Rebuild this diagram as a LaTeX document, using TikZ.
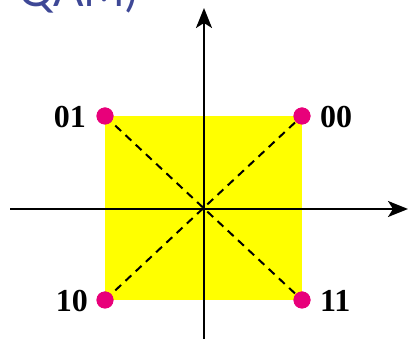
\documentclass[tikz,border=0pt]{standalone}
\usepackage{fontspec}
\setmainfont{Liberation Serif}
\newfontfamily\titlefont{Lato}
\usetikzlibrary{arrows.meta}
\definecolor{titleblue}{RGB}{62,72,150}
\definecolor{dotpink}{RGB}{232,0,122}
\definecolor{sqyellow}{RGB}{255,255,0}
\begin{document}
\begin{tikzpicture}[x=1pt,y=-1pt,
  axis/.style={line width=2pt,-{Stealth[length=20pt,width=16pt,inset=5pt]}},
  diag/.style={line width=2pt,dash pattern=on 8pt off 6pt},
  dot/.style={circle,fill=dotpink,inner sep=0pt,minimum size=17pt},
  lbl/.style={font=\fontsize{32}{32}\selectfont\bfseries,inner sep=0pt}]
\useasboundingbox (0,0) rectangle (408,339);
\begin{scope}
\clip (0,0) rectangle (408,339);
\node[anchor=base west,inner sep=0pt,text=titleblue,font=\titlefont\fontsize{45}{45}\selectfont] (title) at (18,7) {QAM)};
\end{scope}
\fill[sqyellow] (105,116) rectangle (302,300);
\node[dot] (p01) at (105,116) {};
\node[dot] (p00) at (302,116) {};
\node[dot] (p10) at (105,300) {};
\node[dot] (p11) at (302,300) {};
\draw[diag] (p01.center) -- (p11.center);
\draw[diag] (p10.center) -- (p00.center);
\coordinate (xl) at (10,209);
\coordinate (xr) at (408,209);
\coordinate (yb) at (204,339);
\coordinate (yt) at (204,8);
\draw[axis] (xl) -- (xr);
\draw[axis] (yb) -- (yt);
\node[dot] at (p01) {};
\node[dot] at (p00) {};
\node[dot] at (p10) {};
\node[dot] at (p11) {};
\node[lbl,anchor=east] (l01) at (86,117) {01};
\node[lbl,anchor=west] (l00) at (320,117) {00};
\node[lbl,anchor=east] (l10) at (88,301) {10};
\node[lbl,anchor=west] (l11) at (320,301) {11};
\end{tikzpicture}
\end{document}
